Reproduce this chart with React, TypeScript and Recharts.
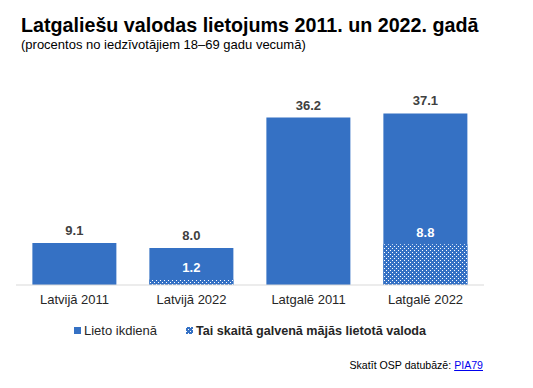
import React from "react";
import { BarChart, Bar, XAxis, YAxis, LabelList } from "recharts";

const categories = ["Latvijā 2011", "Latvijā 2022", "Latgalē 2011", "Latgalē 2022"];
const dailyUse = [9.1, 8.0, 36.2, 37.1];
const mainHomeLanguage = [null, 1.2, null, 8.8];

const BLUE = "#3571c4";
const FONT = "'Liberation Sans', Arial, sans-serif";

const data = categories.map((name, i) => ({
    name,
    daily: dailyUse[i],
    home: mainHomeLanguage[i]
}));

const TopLabel = (props: any) => {
    const { x, y, width, value } = props;
    if (value == null) return null;
    return (
        <text
            x={x + width / 2}
            y={y - 8}
            textAnchor="middle"
            fontSize={13}
            fontWeight={700}
            fill="#404040"
            fontFamily={FONT}
        >
            {value.toFixed(1)}
        </text>
    );
};

const InnerLabel = (props: any) => {
    const { x, y, width, value } = props;
    if (value == null) return null;
    return (
        <text
            x={x + width / 2}
            y={y - 7}
            textAnchor="middle"
            fontSize={13}
            fontWeight={700}
            fill="#ffffff"
            fontFamily={FONT}
        >
            {value.toFixed(1)}
        </text>
    );
};

const App: React.FC = () => {
    return (
        <div
            style={{
                position: "absolute",
                left: 0,
                top: 0,
                width: 533,
                height: 388,
                background: "#fff",
                fontFamily: FONT
            }}
        >
            <div style={{ position: "absolute", left: 21, top: 14, fontSize: 19.7, fontWeight: 700, color: "#000" }}>
                Latgaliešu valodas lietojums 2011. un 2022. gadā
            </div>
            <div style={{ position: "absolute", left: 21, top: 37, fontSize: 13, color: "#000" }}>
                (procentos no iedzīvotājiem 18–69 gadu vecumā)
            </div>

            <BarChart
                width={533}
                height={320}
                data={data}
                margin={{ top: 100, right: 49, bottom: 0, left: 16 }}
                barCategoryGap="14%"
            >
                <defs>
                    <pattern id="dots" width="4" height="4" patternUnits="userSpaceOnUse">
                        <rect width="4" height="4" fill={BLUE} />
                        <rect x="0" y="0" width="1" height="1" fill="#ffffff" />
                        <rect x="2" y="2" width="1" height="1" fill="#ffffff" />
                    </pattern>
                </defs>
                <XAxis
                    xAxisId="a"
                    dataKey="name"
                    height={35}
                    tickLine={false}
                    tickSize={0}
                    tickMargin={10}
                    axisLine={{ stroke: "#d9d9d9" }}
                    tick={{ fill: "#262626", fontSize: 13, fontFamily: FONT }}
                />
                <XAxis xAxisId="b" dataKey="name" hide />
                <YAxis domain={[0, 40]} hide />
                <Bar xAxisId="a" dataKey="daily" fill={BLUE} isAnimationActive={false}>
                    <LabelList dataKey="daily" content={TopLabel} />
                </Bar>
                <Bar xAxisId="b" dataKey="home" fill="url(#dots)" isAnimationActive={false}>
                    <LabelList dataKey="home" content={InnerLabel} />
                </Bar>
            </BarChart>

            <div
                style={{
                    position: "absolute",
                    top: 323,
                    left: 74,
                    display: "flex",
                    alignItems: "center",
                    fontSize: 13,
                    color: "#262626"
                }}
            >
                <span style={{ width: 7, height: 7, background: BLUE, marginRight: 3 }} />
                <span>Lieto ikdienā</span>
                <svg width={7} height={7} style={{ marginLeft: 29, marginRight: 3 }}>
                    <rect width={7} height={7} fill="url(#dots)" />
                </svg>
                <span style={{ fontWeight: 700, fontSize: 12.6 }}>Tai skaitā galvenā mājās lietotā valoda</span>
            </div>

            <div style={{ position: "absolute", right: 50, top: 359, fontSize: 10.6, color: "#000" }}>
                Skatīt OSP datubāzē:{" "}
                <span style={{ color: "#0000ee", textDecoration: "underline" }}>PIA79</span>
            </div>
        </div>
    );
};

export default App;
